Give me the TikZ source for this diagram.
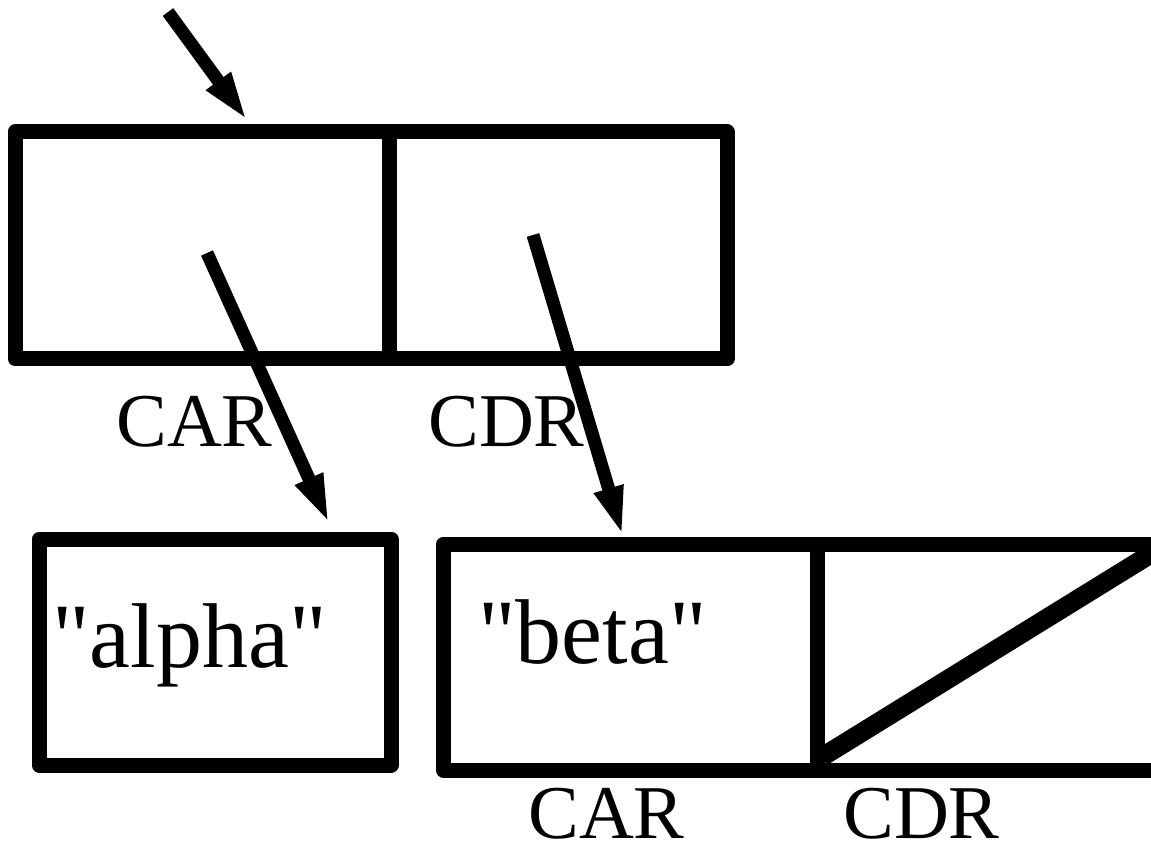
\documentclass[tikz,border=0pt]{standalone}
\usepackage{fontspec}
\setmainfont{Liberation Serif}
\usetikzlibrary{arrows.meta,calc}
\begin{document}
\begin{tikzpicture}[x=0.5pt,y=-0.5pt,
  cell/.style={draw,line width=7.5pt,line join=round,rectangle,inner sep=0pt,outer sep=3.75pt},
  ptr/.style={line width=6.5pt,-{Triangle[length=25pt,width=13.5pt]}},
  boxtext/.style={anchor=base west,inner sep=0pt,font=\fontsize{46}{50}\selectfont},
  lbl/.style={anchor=base west,inner sep=0pt,font=\fontsize{38}{40}\selectfont}]
\useasboundingbox (0,0) rectangle (1151,855);
\clip (0,0) rectangle (1151,855);
% top cons cell
\node[cell,minimum width=187.25pt,minimum height=113.5pt] (tcar) at (202.25,245.5) {};
\node[cell,minimum width=168.75pt,minimum height=113.5pt] (tcdr) at (558.25,245.5) {};
% alpha box
\node[cell,minimum width=176pt,minimum height=113pt] (alpha) at (215,652) {};
% beta cons cell
\node[cell,minimum width=186.75pt,minimum height=113pt] (bcar) at (630.25,657) {};
\node[cell,minimum width=174.5pt,minimum height=113pt] (bcdr) at (991.5,657) {};
% nil diagonal
\draw[line width=9.5pt] (822,757) -- (1154,552);
% texts
\node[boxtext] (talpha) at (52,667) {\textquotedbl alpha\textquotedbl};
\node[boxtext] (tbeta) at (478,663) {\textquotedbl beta\textquotedbl};
\node[lbl] (l1) at (116,447) {CAR};
\node[lbl] (l2) at (428,447) {CDR};
\node[lbl] (l3) at (528,838) {CAR};
\node[lbl] (l4) at (843,838) {CDR};
% pointers
\coordinate (src0) at (168,12);
\coordinate (src1) at (207,253);
\coordinate (src2) at (533,235);
\draw[ptr,shorten >=2pt] (src0) -- ($(tcar.north west)!0.623!(tcar.north east)$);
\draw[ptr,shorten >=4pt] (src1) -- ($(alpha.north west)!0.821!(alpha.north east)$);
\draw[ptr] (src2) -- ($(bcar.north west)!0.481!(bcar.north east)$);
\end{tikzpicture}
\end{document}
